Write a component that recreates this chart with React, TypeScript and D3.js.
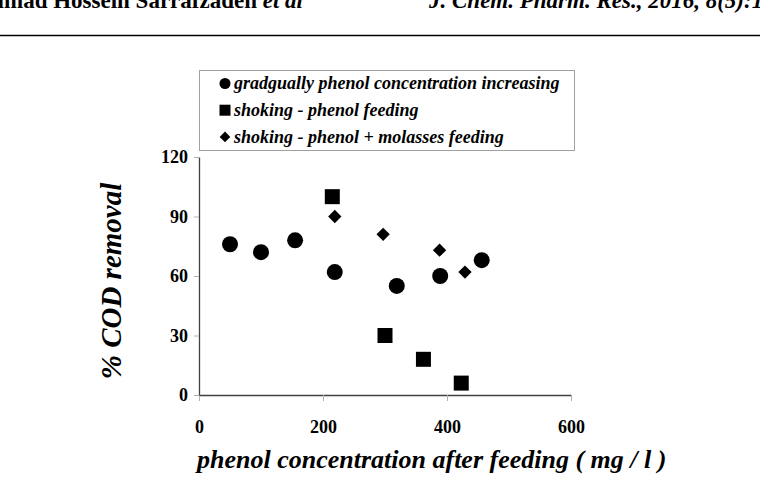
import React from 'react'
import * as d3 from 'd3'

// phenol concentration after feeding (mg/l) vs % COD removal
const gradualX = [50, 100, 155, 219, 319, 389, 456]
const gradualY = [76, 72, 78, 62, 55, 60, 68]

const phenolX = [215, 300, 362, 423]
const phenolY = [100, 30, 18, 6]

const molassesX = [219, 297, 388, 429]
const molassesY = [90, 81, 73, 62]

const seriesNames = [
  'gradgually phenol concentration increasing',
  'shoking - phenol feeding',
  'shoking - phenol + molasses feeding',
]

const xTicks = [0, 200, 400, 600]
const yTicks = [0, 30, 60, 90, 120]

const width = 760
const height = 484
const margin = { top: 157, left: 199, bottom: 89, right: 189 }
const serif = '"Liberation Serif", "Times New Roman", serif'

const App: React.FunctionComponent = () => {
  const xAxisRef = React.useRef<SVGGElement>(null)
  const yAxisRef = React.useRef<SVGGElement>(null)

  const xScale = d3
    .scaleLinear()
    .domain([0, 600])
    .range([margin.left, width - margin.right])
  const yScale = d3
    .scaleLinear()
    .domain([0, 120])
    .range([height - margin.bottom, margin.top])

  const circle = d3.symbol(d3.symbolCircle, Math.PI * 8 * 8)()!
  const square = d3.symbol(d3.symbolSquare, 15 * 15)()!
  const diamond = d3.symbol(d3.symbolSquare, 9.4 * 9.4)()!

  const legendShapes = [
    d3.symbol(d3.symbolCircle, Math.PI * 5.5 * 5.5)()!,
    d3.symbol(d3.symbolSquare, 11 * 11)()!,
    d3.symbol(d3.symbolSquare, 7.5 * 7.5)()!,
  ]

  React.useEffect(() => {
    const xAxis = d3
      .axisBottom(xScale)
      .tickValues(xTicks)
      .tickSize(6)
      .tickSizeOuter(0)
      .tickPadding(16)
    const yAxis = d3
      .axisLeft(yScale)
      .tickValues(yTicks)
      .tickSize(5)
      .tickSizeOuter(0)
      .tickPadding(6)

    const gx = d3.select(xAxisRef.current!).call(xAxis)
    const gy = d3.select(yAxisRef.current!).call(yAxis)

    for (const g of [gx, gy]) {
      g.select('.domain').attr('stroke', '#404040').attr('stroke-width', 1.3)
      g.selectAll('.tick line').attr('stroke', '#b0b0b0')
      g.selectAll('.tick text')
        .attr('fill', '#000')
        .attr('font-family', serif)
        .attr('font-weight', 'bold')
        .attr('font-size', 18)
    }
    gx.selectAll('.tick text').attr('dy', '0.9em')
  }, [])

  return (
    <svg
      width={width}
      height={height}
      style={{ position: 'absolute', left: 0, top: 0, background: '#fff' }}
    >
      {/* running header */}
      <text
        x={303}
        y={8}
        textAnchor="end"
        fontFamily={serif}
        fontWeight="bold"
        fontSize={23}
      >
        Mohammad Hossein Sarrafzadeh <tspan fontStyle="italic">et al</tspan>
      </text>
      <text
        x={429}
        y={8}
        fontFamily={serif}
        fontWeight="bold"
        fontStyle="italic"
        fontSize={23}
      >
        J. Chem. Pharm. Res., 2016, 8(5):1
      </text>
      <line x1={0} x2={width} y1={35.5} y2={35.5} stroke="#000" strokeWidth={1.5} />

      {/* legend */}
      <rect x={199.5} y={70.5} width={375} height={80} fill="#fff" stroke="#a0a0a0" />
      {seriesNames.map((name, i) => (
        <g key={name} transform={`translate(225, ${83.5 + i * 26.7})`}>
          <path d={legendShapes[i]} transform={i === 2 ? 'rotate(45)' : undefined} />
          <text
            x={9}
            dy="0.33em"
            fontFamily={serif}
            fontWeight="bold"
            fontStyle="italic"
            fontSize={18}
          >
            {name}
          </text>
        </g>
      ))}

      <g ref={xAxisRef} transform={`translate(0, ${height - margin.bottom})`} />
      <g ref={yAxisRef} transform={`translate(${margin.left}, 0)`} />

      {gradualX.map((x, i) => (
        <path key={`c${i}`} d={circle} transform={`translate(${xScale(x)}, ${yScale(gradualY[i])})`} />
      ))}
      {phenolX.map((x, i) => (
        <path key={`s${i}`} d={square} transform={`translate(${xScale(x)}, ${yScale(phenolY[i])})`} />
      ))}
      {molassesX.map((x, i) => (
        <path
          key={`d${i}`}
          d={diamond}
          transform={`translate(${xScale(x)}, ${yScale(molassesY[i])}) rotate(45)`}
        />
      ))}

      <text
        x={197}
        y={468}
        fontFamily={serif}
        fontWeight="bold"
        fontStyle="italic"
        fontSize={26}
      >
        phenol concentration after feeding ( mg / l )
      </text>
      <text
        transform={`translate(121, ${281}) rotate(-90)`}
        textAnchor="middle"
        fontFamily={serif}
        fontWeight="bold"
        fontStyle="italic"
        fontSize={29}
      >
        % COD removal
      </text>
    </svg>
  )
}

export default App
